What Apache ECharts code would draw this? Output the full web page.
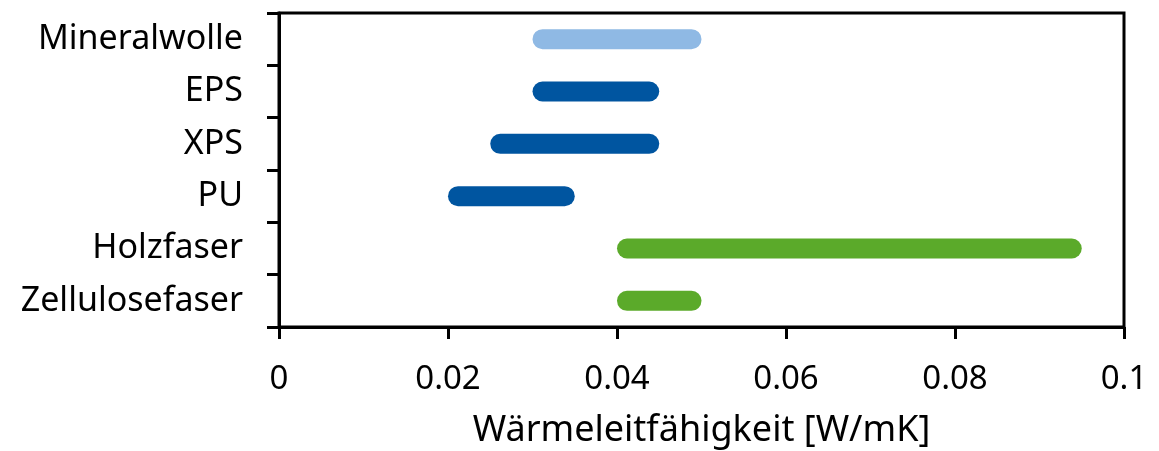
<!DOCTYPE html>
<html><head><meta charset="utf-8">
<script src="https://cdn.jsdelivr.net/npm/echarts@6/dist/echarts.min.js"></script>
<style>html,body{margin:0;padding:0;background:#fff}#c{width:1159px;height:451px}</style>
</head><body><div id="c"></div>
<script>
const categories = ['Mineralwolle','EPS','XPS','PU','Holzfaser','Zellulosefaser'];
const minValues = [0.03, 0.03, 0.025, 0.02, 0.04, 0.04];
const maxValues = [0.05, 0.045, 0.045, 0.035, 0.095, 0.05];
const barColors = ['#8FB9E4','#0055A0','#0055A0','#0055A0','#5BAA2A','#5BAA2A'];
const xTicks = [0, 0.02, 0.04, 0.06, 0.08, 0.1];

const font = '"Noto Sans", sans-serif';
const chart = echarts.init(document.getElementById('c'));
chart.setOption({
  animation: false,
  grid: {left: 279, top: 13, right: 35, bottom: 124, show: true, borderColor: '#000', borderWidth: 3,
         containLabel: false, outerBoundsMode: 'none'},
  xAxis: {
    type: 'value', min: 0, max: 0.1, interval: 0.02,
    name: 'Wärmeleitfähigkeit [W/mK]', nameLocation: 'middle', nameGap: 86,
    nameTextStyle: {fontSize: 36, color: '#000', fontFamily: font},
    axisLine: {show: true, lineStyle: {color: '#000', width: 3}},
    axisTick: {show: true, length: 12, lineStyle: {color: '#000', width: 3}},
    axisLabel: {fontSize: 33, color: '#000', fontFamily: font, margin: 36,
      formatter: v => { const t = xTicks.find(x => Math.abs(x - v) < 1e-9); return t === undefined ? '' : String(t); }},
    splitLine: {show: false}
  },
  yAxis: {
    type: 'category', data: categories, inverse: true,
    axisLine: {show: true, lineStyle: {color: '#000', width: 3}},
    axisTick: {show: true, length: 12, lineStyle: {color: '#000', width: 3}},
    axisLabel: {fontSize: 34, color: '#000', fontFamily: font, margin: 36}
  },
  series: [
    {type: 'bar', stack: 's', data: minValues, itemStyle: {color: 'transparent'}, barWidth: 20, silent: true},
    {type: 'bar', stack: 's', barWidth: 20,
      data: maxValues.map((v, i) => ({value: +(v - minValues[i]).toFixed(4), itemStyle: {color: barColors[i]}})),
      itemStyle: {borderRadius: 10}}
  ]
});
</script></body></html>
